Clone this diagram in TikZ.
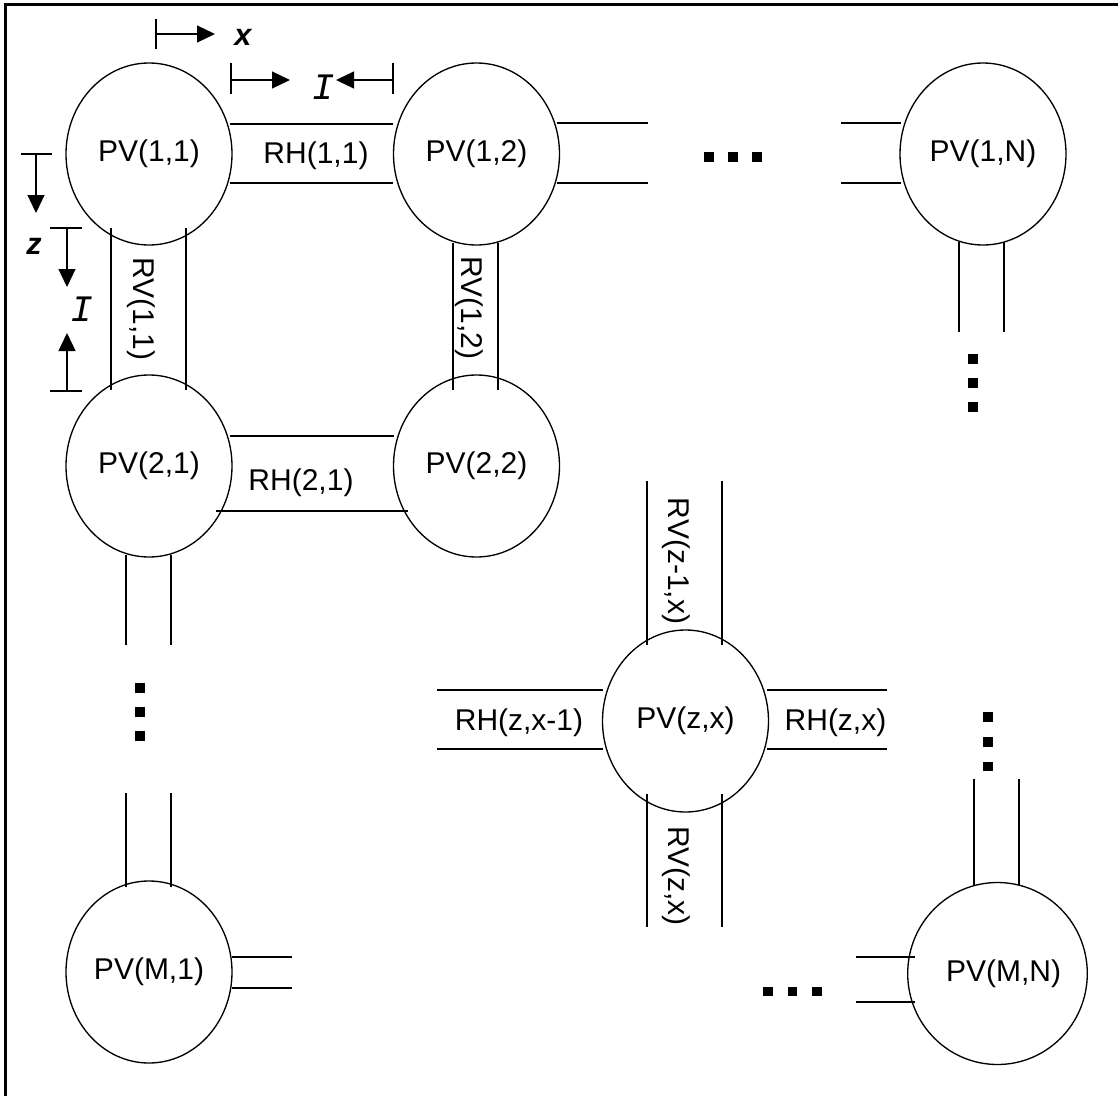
\documentclass[tikz,border=0pt]{standalone}
\usepackage{fontspec}
\setmainfont{Liberation Sans}
\newfontfamily\monof{Liberation Mono}
\usetikzlibrary{calc,shapes.geometric,arrows.meta}
\begin{document}
\begin{tikzpicture}[x=0.75pt,y=-0.75pt,
  pv/.style={draw,ellipse,line width=1pt,minimum width=124.5pt,minimum height=136.5pt,inner sep=0pt,font=\fontsize{22.5}{24}\selectfont},
  wire/.style={line width=0.95pt},
  lbl/.style={font=\fontsize{22.5}{24}\selectfont,inner sep=0pt},
  vlbl/.style={lbl,rotate=-90},
  sq/.style={rectangle,fill=black,minimum size=7.2pt,inner sep=0pt},
  arr/.style={line width=0.95pt,-{Triangle[length=13.5pt,width=12.75pt]}},
  bar/.style={line width=0.95pt},
  ax/.style={font=\bfseries\itshape\fontsize{23}{24}\selectfont,inner sep=0pt},
  one/.style={font=\monof\itshape\fontsize{28}{30}\selectfont,inner sep=0pt}]
\useasboundingbox (0,0) rectangle (1118,1096);
% frame (top and left)
\draw[line width=2.5pt] (5.5,1096) -- (5.5,4.3) -- (1118,4.3);

% processing volumes
\node[pv] (p11) at (149,154) {PV(1,1)};
\node[pv] (p12) at (476.5,154) {PV(1,2)};
\node[pv] (p1N) at (983,154) {PV(1,N)};
\node[pv] (p21) at (149,466) {PV(2,1)};
\node[pv] (p22) at (476.5,466) {PV(2,2)};
\node[pv] (pzx) at (685.5,721) {PV(z,x)};
\node[pv] (pM1) at (149,972) {PV(M,1)};
\node[pv] (pMN) at (997.5,973.5) {\hspace*{9pt}PV(M,N)};

% RH(1,1)
\draw[wire] ($(p11)+(81,-30)$) -- ($(p12)+(-83.5,-30)$);
\draw[wire] ($(p11)+(81,29)$) -- ($(p12)+(-83.5,29)$);
\node[lbl] (rh11) at (316,156) {RH(1,1)};
% stubs right of PV(1,2)
\draw[wire] ($(p12)+(80.5,-31)$) -- ($(p12)+(171.5,-31)$);
\draw[wire] ($(p12)+(80.5,29)$) -- ($(p12)+(171.5,29)$);
% stubs left of PV(1,N)
\draw[wire] ($(p1N)+(-142,-31)$) -- ($(p1N)+(-82,-31)$);
\draw[wire] ($(p1N)+(-142,29)$) -- ($(p1N)+(-82,29)$);
\node[sq] (h1) at (709,157) {};
\node[sq] (h2) at (733,157) {};
\node[sq] (h3) at (757,157) {};

% RV(1,1)
\draw[wire] ($(p11)+(-38,74)$) -- ($(p21)+(-38,-76)$);
\draw[wire] ($(p11)+(37,74)$) -- ($(p21)+(37,-76)$);
\node[vlbl] (rv11) at (141,309) {RV(1,1)};
% RV(1,2)
\draw[wire] ($(p12)+(-23.5,89)$) -- ($(p22)+(-23.5,-76)$);
\draw[wire] ($(p12)+(21.5,89)$) -- ($(p22)+(21.5,-76)$);
\node[vlbl] (rv12) at (469,308) {RV(1,2)};
% stubs below PV(1,N)
\draw[wire] ($(p1N)+(-24,88)$) -- ($(p1N)+(-24,178)$);
\draw[wire] ($(p1N)+(21,88)$) -- ($(p1N)+(21,178)$);
\node[sq] (v1) at (973,359) {};
\node[sq] (v2) at (973,383) {};
\node[sq] (v3) at (973,407) {};

% RH(2,1)
\draw[wire] ($(p21)+(81,-30)$) -- ($(p22)+(-82.5,-30)$);
\draw[wire] ($(p21)+(67,45)$) -- ($(p22)+(-68.5,45)$);
\node[lbl] (rh21) at (301,483) {RH(2,1)};

% stubs below PV(2,1)
\draw[wire] ($(p21)+(-23,89)$) -- ($(p21)+(-23,179)$);
\draw[wire] ($(p21)+(22,89)$) -- ($(p21)+(22,179)$);
\node[sq] (c1) at (140,688) {};
\node[sq] (c2) at (140,712) {};
\node[sq] (c3) at (140,736) {};
% stubs above PV(M,1)
\draw[wire] ($(pM1)+(-23,-179)$) -- ($(pM1)+(-23,-85)$);
\draw[wire] ($(pM1)+(22,-179)$) -- ($(pM1)+(22,-85)$);
% stubs right of PV(M,1)
\draw[wire] ($(pM1)+(83,-15)$) -- ($(pM1)+(143,-15)$);
\draw[wire] ($(pM1)+(83,16)$) -- ($(pM1)+(143,16)$);

% PV(z,x) resistances
\draw[wire] ($(pzx)+(-38.5,-240)$) -- ($(pzx)+(-38.5,-76)$);
\draw[wire] ($(pzx)+(36.5,-240)$) -- ($(pzx)+(36.5,-76)$);
\node[vlbl] (rvz1) at (676,561) {RV(z-1,x)};
\draw[wire] ($(pzx)+(-38.5,73)$) -- ($(pzx)+(-38.5,206)$);
\draw[wire] ($(pzx)+(36.5,73)$) -- ($(pzx)+(36.5,206)$);
\node[vlbl] (rvz) at (676,876) {RV(z,x)};
\draw[wire] ($(pzx)+(-248.5,-31)$) -- ($(pzx)+(-82.5,-31)$);
\draw[wire] ($(pzx)+(-248.5,28)$) -- ($(pzx)+(-82.5,28)$);
\node[lbl] (rhz1) at (519,723) {RH(z,x-1)};
\draw[wire] ($(pzx)+(81.5,-31)$) -- ($(pzx)+(201.5,-31)$);
\draw[wire] ($(pzx)+(81.5,28)$) -- ($(pzx)+(201.5,28)$);
\node[lbl] (rhz) at (835.5,723) {RH(z,x)};

% PV(M,N) stubs
\draw[wire] ($(pMN)+(-23.5,-194.5)$) -- ($(pMN)+(-23.5,-88.5)$);
\draw[wire] ($(pMN)+(21.5,-194.5)$) -- ($(pMN)+(21.5,-88.5)$);
\node[sq] (w1) at (988,717) {};
\node[sq] (w2) at (988,742) {};
\node[sq] (w3) at (988,766.5) {};
\draw[wire] ($(pMN)+(-141.5,-16.5)$) -- ($(pMN)+(-82.5,-16.5)$);
\draw[wire] ($(pMN)+(-141.5,28.5)$) -- ($(pMN)+(-82.5,28.5)$);
\node[sq] (b1) at (768,991.5) {};
\node[sq] (b2) at (792.5,991.5) {};
\node[sq] (b3) at (817,991.5) {};

% x direction indicator
\coordinate (xt1) at (156,19); \coordinate (xt2) at (156,49);
\coordinate (xs) at (156,34); \coordinate (xe) at (215,34);
\draw[bar] (xt1) -- (xt2);
\draw[arr] (xs) -- (xe);
\node[ax] (xl) at (243,37) {x};
% horizontal unit dimension
\coordinate (ha1) at (231,63); \coordinate (ha2) at (231,94);
\coordinate (hb1) at (393,63); \coordinate (hb2) at (393,94);
\coordinate (has) at (231,80); \coordinate (hae) at (290,80);
\coordinate (hbs) at (393,80); \coordinate (hbe) at (336,80);
\draw[bar] (ha1) -- (ha2);
\draw[bar] (hb1) -- (hb2);
\draw[arr] (has) -- (hae);
\draw[arr] (hbs) -- (hbe);
\node[one] (hl) at (323,87) {I};
% z direction indicator
\coordinate (zt1) at (21,154); \coordinate (zt2) at (52,154);
\coordinate (zs) at (36,154); \coordinate (ze) at (36,213);
\draw[bar] (zt1) -- (zt2);
\draw[arr] (zs) -- (ze);
\node[ax] (zl) at (34,246) {z};
% vertical unit dimension
\coordinate (va1) at (50,228); \coordinate (va2) at (82,228);
\coordinate (vb1) at (50,391); \coordinate (vb2) at (82,391);
\coordinate (vas) at (67,228); \coordinate (vae) at (67,287);
\coordinate (vbs) at (67,391); \coordinate (vbe) at (67,333);
\draw[bar] (va1) -- (va2);
\draw[bar] (vb1) -- (vb2);
\draw[arr] (vas) -- (vae);
\draw[arr] (vbs) -- (vbe);
\node[one] (vl) at (81.5,309) {I};
\end{tikzpicture}
\end{document}
